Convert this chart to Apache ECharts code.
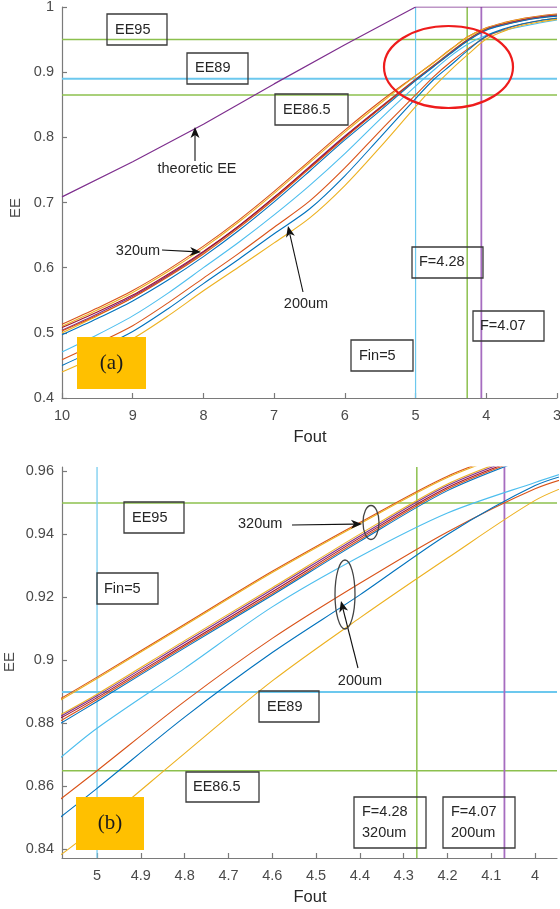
<!DOCTYPE html>
<html>
<head>
<meta charset="utf-8">
<script src="https://cdn.jsdelivr.net/npm/echarts@6/dist/echarts.min.js"></script>
<style>
html,body{margin:0;padding:0;background:#fff;}
#c{width:560px;height:909px;}
</style>
</head>
<body>
<div id="c"></div>
<script>
// ---------- DATA ----------
// Panel (a): Fout grid and EE values
const F_A = [10, 9.5, 9, 8.5, 8, 7.5, 7, 6.5, 6, 5.5, 5, 4.75, 4.5, 4.25, 4, 3.75, 3.5, 3.25, 3];
const A_orange1 = [0.513, 0.538, 0.565, 0.597, 0.633, 0.673, 0.717, 0.764, 0.811, 0.855, 0.8947, 0.9145, 0.9355, 0.955, 0.968, 0.976, 0.982, 0.986, 0.989];
const A_yellow1 = [0.510, 0.535, 0.562, 0.594, 0.630, 0.670, 0.714, 0.761, 0.808, 0.852, 0.8943, 0.9141, 0.9351, 0.9546, 0.9676, 0.9755, 0.9815, 0.9855, 0.9885];
const A_yellow2 = [0.500, 0.526, 0.554, 0.587, 0.623, 0.663, 0.707, 0.754, 0.801, 0.846, 0.8893, 0.9102, 0.9313, 0.9513, 0.9665, 0.9745, 0.9805, 0.985, 0.988];
const A_purple  = [0.504, 0.529, 0.556, 0.588, 0.624, 0.664, 0.708, 0.755, 0.802, 0.846, 0.8888, 0.9097, 0.9307, 0.9507, 0.966, 0.974, 0.980, 0.9845, 0.9875];
const A_darkred = [0.508, 0.532, 0.558, 0.590, 0.625, 0.664, 0.708, 0.754, 0.801, 0.845, 0.8882, 0.909, 0.930, 0.950, 0.9655, 0.9735, 0.9795, 0.984, 0.987];
const A_orange2 = [0.503, 0.527, 0.554, 0.586, 0.621, 0.661, 0.705, 0.752, 0.799, 0.844, 0.8876, 0.9085, 0.9295, 0.9495, 0.965, 0.973, 0.979, 0.9835, 0.9865];
const A_blue1   = [0.497, 0.522, 0.549, 0.581, 0.617, 0.657, 0.701, 0.748, 0.796, 0.841, 0.887, 0.908, 0.929, 0.949, 0.9645, 0.9725, 0.9785, 0.983, 0.986];
const A_cyan    = [0.4705, 0.497, 0.526, 0.561, 0.600, 0.639, 0.681, 0.726, 0.775, 0.828, 0.8785, 0.9025, 0.925, 0.9435, 0.9565, 0.964, 0.970, 0.9755, 0.980];
const A_orange3 = [0.4588, 0.484, 0.511, 0.546, 0.584, 0.622, 0.662, 0.702, 0.753, 0.810, 0.865, 0.8925, 0.916, 0.9365, 0.9545, 0.9655, 0.9735, 0.979, 0.983];
const A_blue2   = [0.450, 0.475, 0.502, 0.537, 0.5755, 0.613, 0.652, 0.690, 0.741, 0.800, 0.8594, 0.888, 0.911, 0.9345, 0.9555, 0.9665, 0.974, 0.979, 0.9825];
const A_yellow3 = [0.4398, 0.464, 0.491, 0.526, 0.5645, 0.601, 0.638, 0.676, 0.726, 0.785, 0.8472, 0.8765, 0.9035, 0.928, 0.9508, 0.963, 0.9715, 0.977, 0.981];
// theoretic EE
const F_T = [10, 9, 8, 7, 6, 5, 3];
const EE_T = [0.7086, 0.7625, 0.820, 0.882, 0.942, 1.0, 1.0];

// Panel (b): zoomed view
const F_B = [5.1, 5.0, 4.8, 4.6, 4.4, 4.2, 4.0, 3.9];
const B_orange1 = [0.8865, 0.8947, 0.9115, 0.9283, 0.9438, 0.9585, 0.9690, 0.9740];
const B_yellow1 = [0.8860, 0.8943, 0.9111, 0.9279, 0.9434, 0.9581, 0.9686, 0.9736];
const B_yellow2 = [0.8815, 0.8893, 0.9063, 0.9231, 0.9401, 0.9560, 0.9670, 0.9720];
const B_purple  = [0.8810, 0.8888, 0.9057, 0.9225, 0.9395, 0.9555, 0.9665, 0.9715];
const B_darkred = [0.8804, 0.8882, 0.9050, 0.9218, 0.9389, 0.9549, 0.9660, 0.9710];
const B_orange2 = [0.8795, 0.8876, 0.9045, 0.9212, 0.9383, 0.9544, 0.9656, 0.9706];
const B_blue1   = [0.8786, 0.8870, 0.9040, 0.9207, 0.9378, 0.9539, 0.9652, 0.9702];
const B_cyan    = [0.8672, 0.8785, 0.8975, 0.9170, 0.9330, 0.9468, 0.9565, 0.9610];
const B_orange3 = [0.8542, 0.8650, 0.8870, 0.9070, 0.9245, 0.9408, 0.9545, 0.9590];
const B_blue2   = [0.8485, 0.8594, 0.8820, 0.9025, 0.9208, 0.9400, 0.9555, 0.9600];
const B_yellow3 = [0.8365, 0.8472, 0.8705, 0.8935, 0.9135, 0.9325, 0.9508, 0.9568];

// reference levels
const EE_LEVELS = [0.95, 0.89, 0.865];
const F_LEVELS = [5, 4.27, 4.07];

// axis ranges & ticks
const X_RANGE_A = [3, 10];
const Y_RANGE_A = [0.4, 1];
const X_RANGE_B = [3.95, 5.08];
const Y_RANGE_B = [0.8373, 0.9614];
const X_TICKS_B = [4, 4.1, 4.2, 4.3, 4.4, 4.5, 4.6, 4.7, 4.8, 4.9, 5];
const Y_TICKS_B = [0.84, 0.86, 0.88, 0.9, 0.92, 0.94, 0.96];

// ---------- STYLE ----------
const C_BLUE = '#0072BD', C_ORANGE = '#D95319', C_YELLOW = '#EDB120', C_PURPLE = '#7E2F8E',
      C_GREEN = '#77AC30', C_CYAN = '#4DBEEE', C_DRED = '#A2142F';
const curveColors = [C_ORANGE, C_YELLOW, C_YELLOW, C_PURPLE, C_DRED, C_ORANGE, C_BLUE, C_CYAN, C_ORANGE, C_BLUE, C_YELLOW];
const curvesA = [A_orange1, A_yellow1, A_yellow2, A_purple, A_darkred, A_orange2, A_blue1, A_cyan, A_orange3, A_blue2, A_yellow3];
const curvesB = [B_orange1, B_yellow1, B_yellow2, B_purple, B_darkred, B_orange2, B_blue1, B_cyan, B_orange3, B_blue2, B_yellow3];
const refColorsH = ['#8CC04E', '#6CC8EE', '#8CC04E'];
const refWidthH = [1.5, 2, 1.5];
const refColorsV = ['#6CC8EE', '#8CC04E', '#A66CC0'];
const refWidthV = [1.2, 1.5, 1.8];

const FONT = 'Liberation Sans, Arial, Helvetica, sans-serif';
const AX = '#7a7a7a';
const LBL = '#4a4a4a';

const chart = echarts.init(document.getElementById('c'), null, {renderer: 'canvas'});

function zip(xs, ys) { return xs.map((x, i) => [x, ys[i]]); }

const series = [];
// reference lines
function refLines(ax, xr, yr) {
  EE_LEVELS.forEach((v, i) => series.push({
    type: 'line', xAxisIndex: ax, yAxisIndex: ax, data: [[xr[0], v], [xr[1], v]],
    symbol: 'none', silent: true, z: 1, lineStyle: {color: refColorsH[i], width: refWidthH[i]}
  }));
  F_LEVELS.forEach((v, i) => series.push({
    type: 'line', xAxisIndex: ax, yAxisIndex: ax, data: [[v, yr[0]], [v, yr[1]]],
    symbol: 'none', silent: true, z: 1, lineStyle: {color: refColorsV[i], width: refWidthV[i]}
  }));
}
refLines(0, X_RANGE_A, Y_RANGE_A);
refLines(1, X_RANGE_B, Y_RANGE_B);

series.push({
  type: 'line', xAxisIndex: 0, yAxisIndex: 0, data: zip(F_T, EE_T), symbol: 'none', z: 2,
  lineStyle: {color: C_PURPLE, width: 1.2}
});
curvesA.forEach((arr, i) => series.push({
  type: 'line', xAxisIndex: 0, yAxisIndex: 0, data: zip(F_A, arr), symbol: 'none', z: 3,
  smooth: 0.3, lineStyle: {color: curveColors[i], width: 1.1}
}));
curvesB.forEach((arr, i) => series.push({
  type: 'line', xAxisIndex: 1, yAxisIndex: 1, data: zip(F_B, arr), symbol: 'none', z: 3,
  smooth: 0.3, lineStyle: {color: curveColors[i], width: 1.1}
}));

const axisCommon = {
  axisLine: {show: true, onZero: false, lineStyle: {color: AX, width: 1.2}},
  axisTick: {show: true, inside: true, length: 5, lineStyle: {color: AX, width: 1.2}},
  splitLine: {show: false},
  axisLabel: {color: LBL, fontSize: 14.5, fontFamily: FONT, hideOverlap: false, showMinLabel: true, showMaxLabel: true}
};

// annotations
const g = [];
function box(x, y, w, h) {
  g.push({type: 'rect', shape: {x: x, y: y, width: w, height: h}, style: {fill: 'none', stroke: '#3a3a3a', lineWidth: 1.3}, z: 50});
}
function txt(s, x, y, align, size) {
  g.push({type: 'text', x: x, y: y, style: {text: s, font: (size || 14.5) + 'px ' + FONT, fill: '#262626', align: align || 'left', verticalAlign: 'middle'}, z: 51});
}
function arrow(x1, y1, x2, y2) {
  const a = Math.atan2(y2 - y1, x2 - x1), c = Math.cos(a), s = Math.sin(a);
  const L = 11, W = 4.5, N = 8;
  const bx = x2 - L * c, by = y2 - L * s;
  const nx = x2 - N * c, ny = y2 - N * s;
  g.push({type: 'line', shape: {x1: x1, y1: y1, x2: nx, y2: ny}, style: {stroke: '#111', lineWidth: 1.1}, z: 52});
  g.push({type: 'polygon', shape: {points: [[x2, y2], [bx - W * s, by + W * c], [nx, ny], [bx + W * s, by - W * c]]}, style: {fill: '#111'}, z: 52});
}
function tag(label, x, y, w, h) {
  g.push({type: 'rect', shape: {x: x, y: y, width: w, height: h}, style: {fill: '#FFC000'}, z: 50});
  g.push({type: 'text', x: x + w / 2, y: y + h / 2, style: {text: label, font: '21px Liberation Serif, Times New Roman, serif', fill: '#1a1a1a', align: 'center', verticalAlign: 'middle'}, z: 51});
}

// panel (a)
box(107, 14, 60, 31); txt('EE95', 115, 30);
box(187, 53, 61, 31); txt('EE89', 195, 68);
box(275, 94, 73, 31); txt('EE86.5', 283, 110);
box(412, 247, 71, 31); txt('F=4.28', 419, 262);
box(473, 311, 71, 30); txt('F=4.07', 480, 326);
box(351, 340, 62, 31); txt('Fin=5', 359, 356);
txt('theoretic EE', 197, 169, 'center');
arrow(195, 161, 195, 127);
txt('320um', 138, 251, 'center');
arrow(162, 250, 201, 252);
txt('200um', 306, 304, 'center');
arrow(303, 292, 288, 226);
tag('(a)', 77, 337, 69, 52);
g.push({type: 'ellipse', shape: {cx: 448.5, cy: 67, rx: 64.5, ry: 41}, style: {fill: 'none', stroke: '#EE1C1C', lineWidth: 2.2}, z: 53});
txt('Fout', 310, 437, 'center', 16.5);
g.push({type: 'text', x: 16, y: 208, rotation: Math.PI / 2, style: {text: 'EE', font: '15px ' + FONT, fill: LBL, align: 'center', verticalAlign: 'middle'}, z: 51});

// panel (b)
box(124, 502, 60, 31); txt('EE95', 132, 517.5);
box(97, 573, 61, 31); txt('Fin=5', 104, 588.5);
box(259, 691, 60, 31); txt('EE89', 267, 706.5);
box(186, 772, 73, 30); txt('EE86.5', 193, 787);
box(354, 797, 72, 51); txt('F=4.28', 362, 811.5); txt('320um', 362, 832.5);
box(443, 797, 72, 51); txt('F=4.07', 451, 811.5); txt('200um', 451, 832.5);
txt('320um', 238, 524);
arrow(292, 525, 362, 524);
g.push({type: 'ellipse', shape: {cx: 371, cy: 522.5, rx: 8, ry: 17}, style: {fill: 'none', stroke: '#444', lineWidth: 1.3}, z: 53});
g.push({type: 'ellipse', shape: {cx: 345, cy: 594.5, rx: 10, ry: 34.5}, style: {fill: 'none', stroke: '#444', lineWidth: 1.3}, z: 53});
txt('200um', 360, 681, 'center');
arrow(358, 668, 341, 601);
tag('(b)', 76, 797, 68, 53);
txt('Fout', 310, 897, 'center', 16.5);
g.push({type: 'text', x: 10, y: 662, rotation: Math.PI / 2, style: {text: 'EE', font: '15px ' + FONT, fill: LBL, align: 'center', verticalAlign: 'middle'}, z: 51});

chart.setOption({
  animation: false,
  backgroundColor: '#fff',
  grid: [
    {left: 62, width: 495, top: 7, height: 391, outerBoundsMode: 'none', containLabel: false},
    {left: 62, width: 495, top: 467, height: 391, outerBoundsMode: 'none', containLabel: false}
  ],
  xAxis: [
    Object.assign({}, axisCommon, {type: 'value', gridIndex: 0, inverse: true, min: X_RANGE_A[0], max: X_RANGE_A[1], interval: 1,
      axisLabel: Object.assign({}, axisCommon.axisLabel, {margin: 10})}),
    Object.assign({}, axisCommon, {type: 'value', gridIndex: 1, inverse: true, min: X_RANGE_B[0], max: X_RANGE_B[1],
      axisTick: Object.assign({}, axisCommon.axisTick, {customValues: X_TICKS_B}),
      axisLabel: Object.assign({}, axisCommon.axisLabel, {margin: 10, customValues: X_TICKS_B, formatter: v => String(+v.toFixed(2))})})
  ],
  yAxis: [
    Object.assign({}, axisCommon, {type: 'value', gridIndex: 0, min: Y_RANGE_A[0], max: Y_RANGE_A[1], interval: 0.1,
      axisLabel: Object.assign({}, axisCommon.axisLabel, {margin: 8, formatter: v => String(+v.toFixed(2))})}),
    Object.assign({}, axisCommon, {type: 'value', gridIndex: 1, min: Y_RANGE_B[0], max: Y_RANGE_B[1],
      axisTick: Object.assign({}, axisCommon.axisTick, {customValues: Y_TICKS_B}),
      axisLabel: Object.assign({}, axisCommon.axisLabel, {margin: 8, customValues: Y_TICKS_B, formatter: v => String(+v.toFixed(3))})})
  ],
  series: series,
  graphic: g
});
</script>
</body>
</html>
